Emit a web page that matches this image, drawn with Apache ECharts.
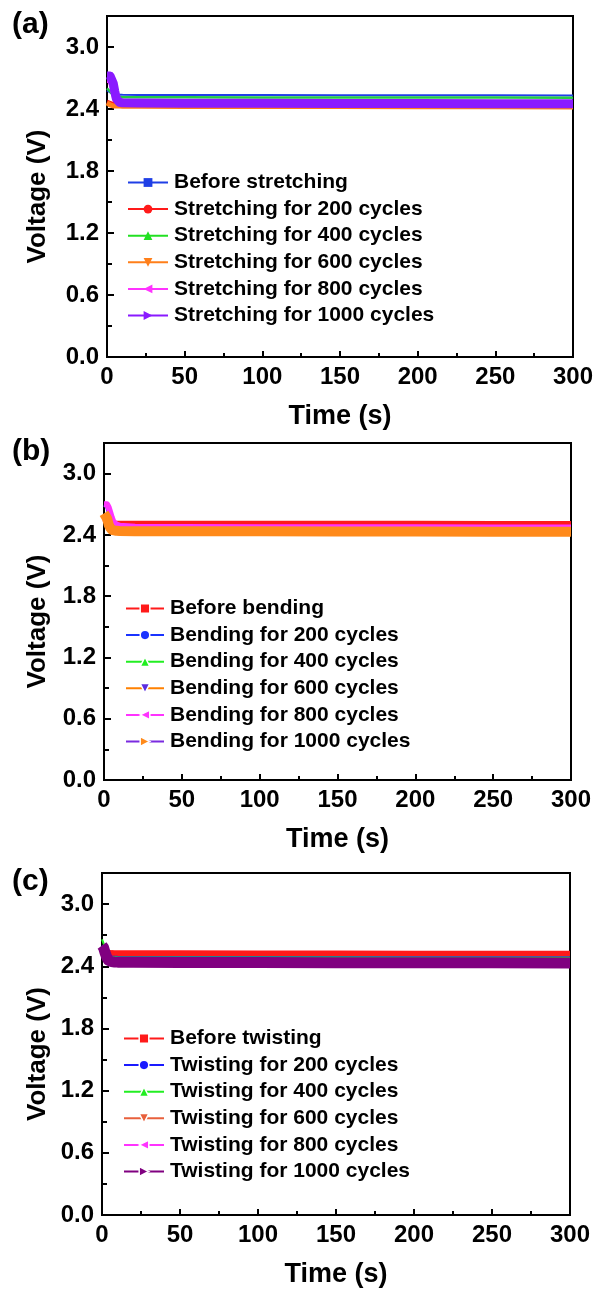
<!DOCTYPE html>
<html>
<head>
<meta charset="utf-8">
<script src="https://cdn.jsdelivr.net/npm/echarts@6/dist/echarts.min.js"></script>
<style>
  html, body { margin: 0; padding: 0; background: #fff; }
  #chart { width: 598px; height: 1297px; }
</style>
</head>
<body>
<div id="chart"></div>
<script>
// Sampling times (s), shared by every curve
const timeS = [0, 1, 2, 3, 4, 5, 6, 8, 10, 20, 50, 100, 150, 200, 250, 300];

// (a) stretching
const stretchNames = ['Before stretching', 'Stretching for 200 cycles', 'Stretching for 400 cycles',
  'Stretching for 600 cycles', 'Stretching for 800 cycles', 'Stretching for 1000 cycles'];
const stretchBefore = [2.58, 2.57, 2.56, 2.55, 2.545, 2.54, 2.54, 2.538, 2.537, 2.536, 2.536, 2.535, 2.534, 2.533, 2.532, 2.531];
const stretch200 = [2.47, 2.47, 2.46, 2.455, 2.45, 2.45, 2.45, 2.448, 2.447, 2.446, 2.445, 2.444, 2.443, 2.442, 2.441, 2.44];
const stretch400 = [2.60, 2.59, 2.57, 2.55, 2.53, 2.52, 2.516, 2.515, 2.514, 2.513, 2.513, 2.512, 2.512, 2.511, 2.511, 2.51];
const stretch600 = [2.46, 2.45, 2.44, 2.435, 2.43, 2.43, 2.43, 2.428, 2.427, 2.426, 2.425, 2.424, 2.423, 2.422, 2.421, 2.42];
const stretch800 = [2.68, 2.69, 2.68, 2.64, 2.58, 2.52, 2.48, 2.46, 2.455, 2.45, 2.448, 2.446, 2.445, 2.444, 2.443, 2.442];
const stretch1000 = [2.72, 2.72, 2.72, 2.71, 2.65, 2.57, 2.50, 2.465, 2.46, 2.458, 2.456, 2.455, 2.454, 2.453, 2.452, 2.45];

// (b) bending
const bendNames = ['Before bending', 'Bending for 200 cycles', 'Bending for 400 cycles',
  'Bending for 600 cycles', 'Bending for 800 cycles', 'Bending for 1000 cycles'];
const bendBefore = [2.56, 2.55, 2.54, 2.53, 2.52, 2.515, 2.512, 2.51, 2.51, 2.51, 2.51, 2.51, 2.509, 2.509, 2.508, 2.508];
const bend200 = [2.60, 2.58, 2.55, 2.52, 2.50, 2.49, 2.485, 2.482, 2.48, 2.479, 2.478, 2.477, 2.476, 2.476, 2.475, 2.475];
const bend400 = [2.58, 2.57, 2.54, 2.51, 2.49, 2.475, 2.47, 2.465, 2.462, 2.46, 2.46, 2.459, 2.458, 2.458, 2.457, 2.457];
const bend600 = [2.70, 2.70, 2.69, 2.64, 2.58, 2.53, 2.50, 2.47, 2.46, 2.455, 2.452, 2.45, 2.449, 2.448, 2.447, 2.446];
const bend800 = [2.70, 2.71, 2.70, 2.67, 2.62, 2.57, 2.53, 2.50, 2.49, 2.48, 2.478, 2.476, 2.475, 2.474, 2.473, 2.472];
const bend1000 = [2.61, 2.60, 2.56, 2.50, 2.47, 2.45, 2.445, 2.44, 2.438, 2.437, 2.436, 2.435, 2.434, 2.433, 2.432, 2.43];

// (c) twisting
const twistNames = ['Before twisting', 'Twisting for 200 cycles', 'Twisting for 400 cycles',
  'Twisting for 600 cycles', 'Twisting for 800 cycles', 'Twisting for 1000 cycles'];
const twistBefore = [2.56, 2.55, 2.54, 2.535, 2.53, 2.528, 2.527, 2.526, 2.526, 2.525, 2.525, 2.524, 2.523, 2.522, 2.521, 2.52];
const twist200 = [2.60, 2.57, 2.53, 2.51, 2.50, 2.495, 2.493, 2.492, 2.491, 2.49, 2.49, 2.489, 2.489, 2.488, 2.488, 2.487];
const twist400 = [2.66, 2.62, 2.56, 2.52, 2.50, 2.49, 2.488, 2.487, 2.486, 2.485, 2.485, 2.484, 2.484, 2.483, 2.483, 2.482];
const twist600 = [2.52, 2.50, 2.47, 2.455, 2.45, 2.445, 2.443, 2.442, 2.441, 2.44, 2.44, 2.439, 2.438, 2.438, 2.437, 2.436];
const twist800 = [2.58, 2.55, 2.51, 2.48, 2.465, 2.46, 2.455, 2.452, 2.451, 2.45, 2.45, 2.449, 2.448, 2.447, 2.446, 2.445];
const twist1000 = [2.60, 2.58, 2.53, 2.49, 2.46, 2.45, 2.445, 2.442, 2.44, 2.438, 2.437, 2.436, 2.435, 2.434, 2.433, 2.432];

// Axis ticks
const timeTicks = { min: 0, max: 300, interval: 50 };
const voltTicks = { min: 0, max: 3.3, interval: 0.6, minor: 0.3 };

const FONT = '"Liberation Sans", Arial, sans-serif';
const SYM = {
  square: 'rect',
  circle: 'circle',
  up: 'path://M0,10L10,10L5,0Z',
  down: 'path://M0,0L10,0L5,10Z',
  left: 'path://M10,0L10,10L0,5Z',
  right: 'path://M0,0L0,10L10,5Z'
};

// Panel geometry
const panels = [
  { tag: '(a)', grid: { left: 107, top: 16, width: 466, height: 341 }, legend: { left: 127, top: 172, w: 40, h: 11 },
    names: stretchNames, values: [stretchBefore, stretch200, stretch400, stretch600, stretch800, stretch1000],
    plotColors: ['#1f3fe6', '#ff1a1a', '#22cc44', '#ff7f1a', '#ff33ff', '#8a1aff'],
    lineColors: ['#1f3fe6', '#ff1a1a', '#22e022', '#ff7f1a', '#ff33ff', '#8a1aff'],
    markColors: ['#1f3fe6', '#ff1a1a', '#22e022', '#ff7f1a', '#ff33ff', '#8a1aff'],
    widths: [2, 4, 2.5, 5, 6, 9], gapBorder: 0 },
  { tag: '(b)', grid: { left: 104, top: 443, width: 467, height: 337 }, legend: { left: 125, top: 598, w: 38, h: 12 },
    names: bendNames, values: [bendBefore, bend200, bend400, bend600, bend800, bend1000],
    plotColors: ['#ff1a1a', '#1a33ff', '#22ee22', '#5b2de0', '#ff33ff', '#ff8a1a'],
    lineColors: ['#ff1a1a', '#1a33ff', '#22ee22', '#ff8000', '#ff33ff', '#7a2be0'],
    markColors: ['#ff1a1a', '#1a33ff', '#22ee22', '#5b2de0', '#ff33ff', '#ff8a1a'],
    widths: [6, 2, 3, 5, 6, 10], gapBorder: 1.5 },
  { tag: '(c)', grid: { left: 102, top: 873, width: 468, height: 342 }, legend: { left: 123, top: 1028, w: 40, h: 12 },
    names: twistNames, values: [twistBefore, twist200, twist400, twist600, twist800, twist1000],
    plotColors: ['#ff1a1a', '#1a1aff', '#22ee22', '#e8603c', '#ff33ff', '#800080'],
    lineColors: ['#ff1a1a', '#1a1aff', '#22ee22', '#e8603c', '#ff33ff', '#800080'],
    markColors: ['#ff1a1a', '#1a1aff', '#22ee22', '#e8603c', '#ff33ff', '#800080'],
    widths: [6, 2, 2, 4, 4, 11], gapBorder: 1.5 }
];
const symbols = [SYM.square, SYM.circle, SYM.up, SYM.down, SYM.left, SYM.right];

const option = {
  animation: false,
  backgroundColor: '#fff',
  textStyle: { fontFamily: FONT },
  grid: [], xAxis: [], yAxis: [], series: [], legend: [], title: [], graphic: []
};

panels.forEach((p, k) => {
  option.grid.push(Object.assign({ show: true, borderColor: '#000', borderWidth: 2, backgroundColor: 'transparent' }, p.grid));

  option.xAxis.push({
    type: 'value', gridIndex: k, min: timeTicks.min, max: timeTicks.max, interval: timeTicks.interval,
    name: 'Time (s)', nameLocation: 'middle', nameGap: 46,
    nameTextStyle: { fontSize: 27, fontWeight: 'bold', color: '#000', fontFamily: FONT },
    axisLine: { show: true, lineStyle: { color: '#000', width: 2 } },
    axisTick: { show: true, inside: true, length: 6, lineStyle: { color: '#000', width: 2 } },
    minorTick: { show: true, splitNumber: 2, length: 4, lineStyle: { color: '#000', width: 2 } },
    axisLabel: { fontSize: 24, fontWeight: 'bold', color: '#000', margin: 8, fontFamily: FONT },
    splitLine: { show: false }, minorSplitLine: { show: false }
  });

  // labelled ticks
  option.yAxis.push({
    type: 'value', gridIndex: k, position: 'left', min: voltTicks.min, max: voltTicks.max, interval: voltTicks.interval,
    axisLine: { show: true, lineStyle: { color: '#000', width: 2 } },
    axisTick: { show: true, inside: true, length: 7, lineStyle: { color: '#000', width: 2 } },
    axisLabel: { fontSize: 24, fontWeight: 'bold', color: '#000', margin: 8, fontFamily: FONT, showMaxLabel: false,
      formatter: v => v.toFixed(1) },
    splitLine: { show: false }
  });
  // intermediate ticks every 0.3 V
  option.yAxis.push({
    type: 'value', gridIndex: k, position: 'left', offset: 0, min: voltTicks.min, max: voltTicks.max, interval: voltTicks.minor,
    axisLine: { show: false }, axisLabel: { show: false }, splitLine: { show: false },
    axisTick: { show: true, inside: true, length: 5, lineStyle: { color: '#000', width: 2 } }
  });

  p.names.forEach((name, i) => {
    option.series.push({
      type: 'line', name: name, xAxisIndex: k, yAxisIndex: 2 * k,
      data: timeS.map((t, j) => [t, p.values[i][j]]),
      showSymbol: false, symbol: symbols[i], symbolSize: 8,
      lineStyle: { color: p.plotColors[i], width: p.widths[i], join: 'round' },
      itemStyle: { color: p.markColors[i] },
      emphasis: { disabled: true }, z: 2 + i
    });
  });

  option.legend.push({
    orient: 'vertical', left: p.legend.left, top: p.legend.top, padding: 0,
    itemWidth: p.legend.w, itemHeight: p.legend.h, itemGap: 5.6, selectedMode: false,
    textStyle: { fontSize: 21, fontWeight: 'bold', color: '#000', fontFamily: FONT, padding: [0, 0, 0, 1] },
    data: p.names.map((name, i) => ({
      name: name,
      itemStyle: { color: p.markColors[i], borderColor: '#fff', borderWidth: p.gapBorder },
      lineStyle: { color: p.lineColors[i], width: 2 }
    }))
  });

  option.title.push({
    text: p.tag, left: 12, top: p.grid.top - 6, padding: 0,
    textStyle: { fontSize: 30, fontWeight: 'bold', color: '#000', fontFamily: FONT }
  });

  option.graphic.push({
    type: 'text', x: 38, y: p.grid.top + p.grid.height / 2 + 10, rotation: Math.PI / 2,
    style: { text: 'Voltage (V)', fontSize: 26, fontWeight: 'bold', fontFamily: FONT, fill: '#000',
      align: 'center', verticalAlign: 'middle' }
  });
});

const chart = echarts.init(document.getElementById('chart'), null, { renderer: 'canvas' });
chart.setOption(option);
</script>
</body>
</html>
